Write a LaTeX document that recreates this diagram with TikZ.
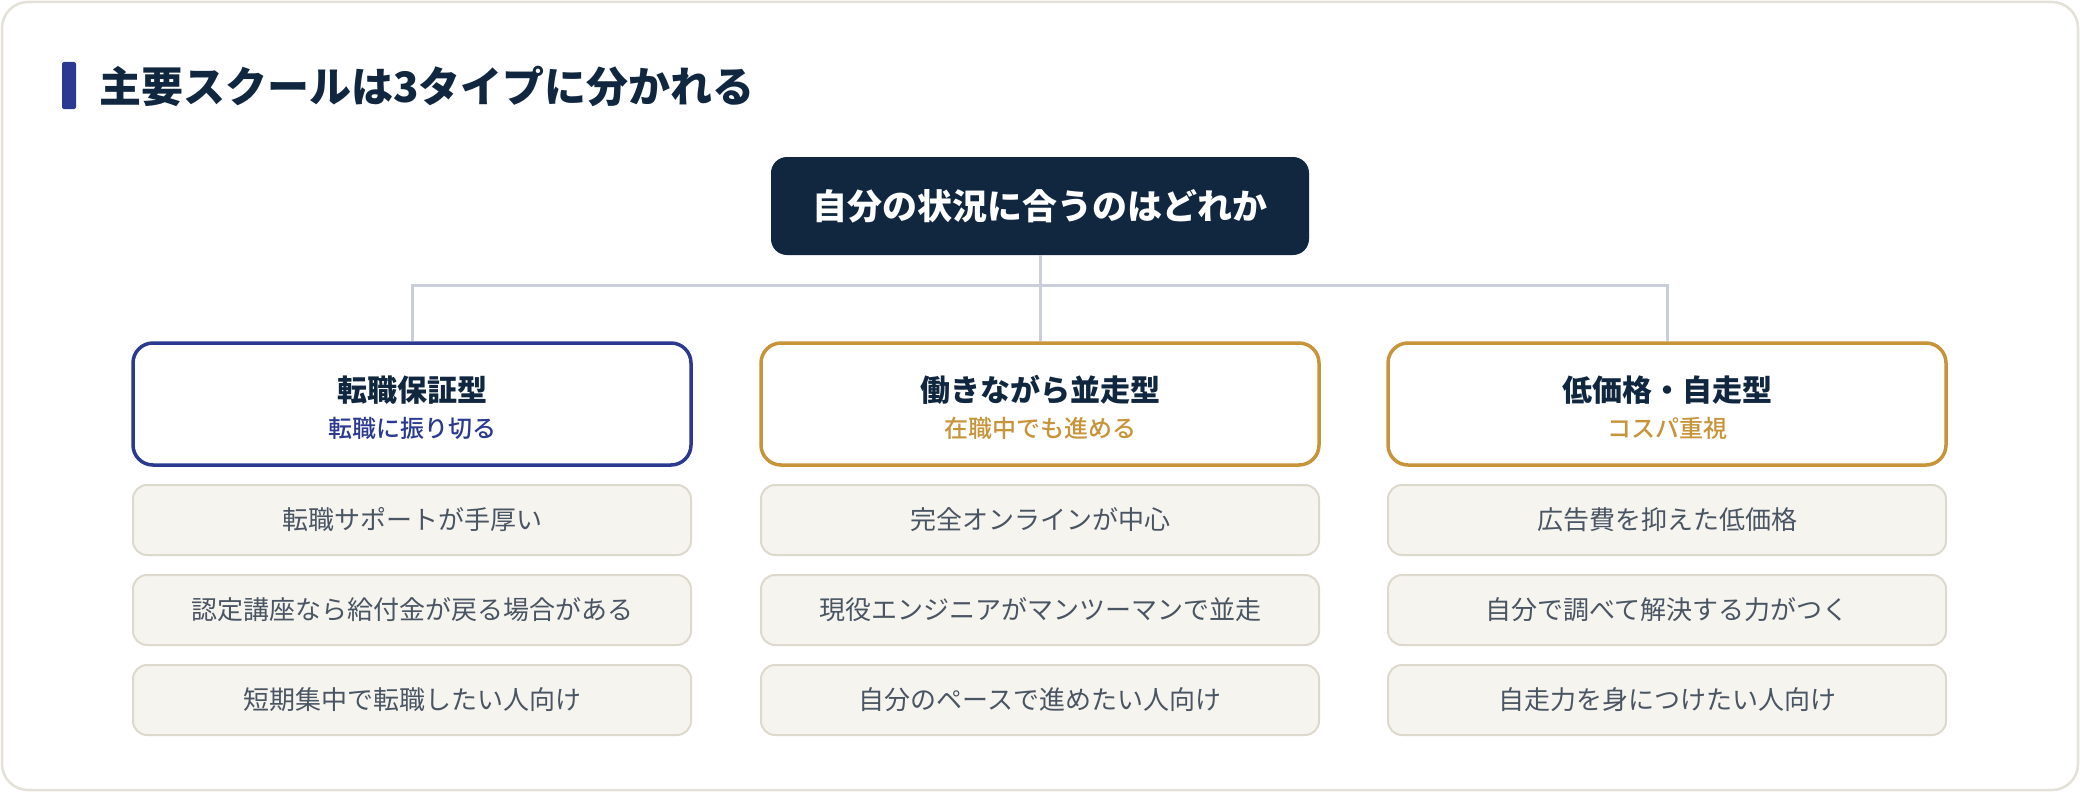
\documentclass[tikz,border=0pt]{standalone}
\usepackage{fontspec}
\setmainfont{Noto Sans CJK JP}
\newfontfamily\jpmed{Noto Sans CJK JP Medium}
\definecolor{navy}{HTML}{10273F}
\definecolor{indigo}{HTML}{2B3990}
\definecolor{gold}{HTML}{C8943A}
\definecolor{framec}{HTML}{E4E2D8}
\definecolor{itemfill}{HTML}{F6F4EF}
\definecolor{itemborder}{HTML}{DDD9CC}
\definecolor{itemtext}{HTML}{4A5563}
\definecolor{linkc}{HTML}{C9CED8}
\tikzset{
  rootbox/.style={fill=navy, rounded corners=16pt, minimum width=538pt, minimum height=98pt, text=white, font=\bfseries\fontsize{35}{42}\selectfont, inner sep=0pt},
  typebox/.style={draw=#1, line width=3.5pt, fill=white, rounded corners=20pt, minimum width=558pt, minimum height=122pt, inner sep=0pt},
  typetitle/.style={text=navy, font=\bfseries\fontsize{30}{36}\selectfont, inner sep=0pt},
  typesub/.style={text=#1, font=\jpmed\fontsize{24}{30}\selectfont, inner sep=0pt},
  itembox/.style={draw=itemborder, line width=2pt, fill=itemfill, rounded corners=14pt, minimum width=558pt, minimum height=70pt, text=itemtext, font=\fontsize{26}{32}\selectfont, inner sep=0pt},
  linkline/.style={draw=linkc, line width=3pt},
}
\begin{document}
\begin{tikzpicture}[x=1pt,y=-1pt]
\useasboundingbox (0,0) rectangle (2080,792);
\draw[framec, line width=2.5pt, fill=white, rounded corners=26pt] (2,2) rectangle (2078,790);
% heading
\fill[indigo, rounded corners=2pt] (62,62) rectangle (76,109);
\node[anchor=west, text=navy, font=\bfseries\fontsize{42}{48}\selectfont, inner sep=0pt] (heading) at (99,86) {主要スクールは3タイプに分かれる};
% root
\node[rootbox] (root) at (1040,206) {自分の状況に合うのはどれか};
% type boxes
\node[typebox=indigo] (t1) at (412,404) {};
\node[typebox=gold] (t2) at (1040,404) {};
\node[typebox=gold] (t3) at (1667,404) {};
\coordinate (bus) at (1040,285);
\draw[linkline] (root.south) -- (t2.north);
\draw[linkline] (t1.north) -- (t1.north |- bus) -- (t3.north |- bus) -- (t3.north);
\node[typetitle] (t1a) at (412,390) {転職保証型};
\node[typesub=indigo] (t1b) at (412,428) {転職に振り切る};
\node[typetitle] (t2a) at (1040,390) {働きながら並走型};
\node[typesub=gold] (t2b) at (1040,428) {在職中でも進める};
\node[typetitle] (t3a) at (1667,390) {低価格・自走型};
\node[typesub=gold] (t3b) at (1667,428) {コスパ重視};
% items
\node[itembox] (i11) at (412,520) {転職サポートが手厚い};
\node[itembox] (i12) at (412,610) {認定講座なら給付金が戻る場合がある};
\node[itembox] (i13) at (412,700) {短期集中で転職したい人向け};
\node[itembox] (i21) at (1040,520) {完全オンラインが中心};
\node[itembox] (i22) at (1040,610) {現役エンジニアがマンツーマンで並走};
\node[itembox] (i23) at (1040,700) {自分のペースで進めたい人向け};
\node[itembox] (i31) at (1667,520) {広告費を抑えた低価格};
\node[itembox] (i32) at (1667,610) {自分で調べて解決する力がつく};
\node[itembox] (i33) at (1667,700) {自走力を身につけたい人向け};
\end{tikzpicture}
\end{document}
